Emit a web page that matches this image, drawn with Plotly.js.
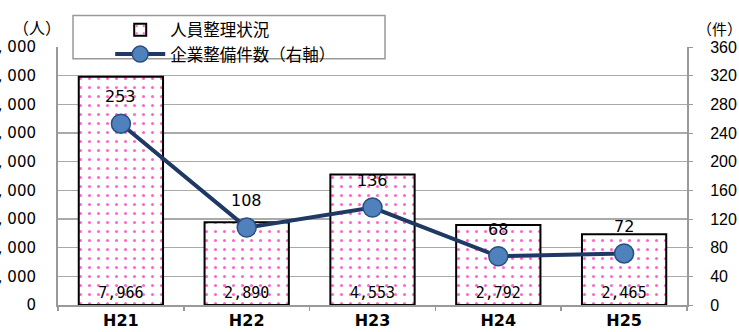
<!DOCTYPE html>
<html><head><meta charset="utf-8">
<script src="https://cdn.plot.ly/plotly-3.0.1.min.js"></script>
<style>html,body{margin:0;padding:0;background:#fff;}#chart{width:739px;height:332px;}</style>
</head><body><div id="chart"></div>
<script>
const categories = ['H21','H22','H23','H24','H25'];
const personnel = [7966, 2890, 4553, 2792, 2465];
const companies = [253, 108, 136, 68, 72];
const leftTicks = [0,1000,2000,3000,4000,5000,6000,7000,8000,9000];
const rightTicks = [0,40,80,120,160,200,240,280,320,360];
const seriesNames = ['人員整理状況','企業整備件数（右軸）'];
const unitLeft = '（人）';
const unitRight = '（件）';

const DJFONT = '"DejaVu Sans", sans-serif';
const NARROW = '"Liberation Sans Narrow", "Arial Narrow", "Liberation Sans", sans-serif';
const MONOFONT = '"DejaVu Sans Mono", monospace';
const JPFONT = '"Noto Sans CJK JP", sans-serif';

const fmt = v => v.toLocaleString('en-US').replace(',', ', ');

const bars = {
  type:'bar', x:categories, y:personnel, name:seriesNames[0],
  marker:{color:'#ffffff', line:{color:'#000000', width:2},
    pattern:{shape:'.', fgcolor:'#ff66cc', bgcolor:'#ffffff', size:9, solidity:0.09}},
  text:personnel.map(v => v.toLocaleString('en-US')), texttemplate:'%{text}',
  textposition:'inside', insidetextanchor:'start',
  textangle:0, constraintext:'none',
  textfont:{family:MONOFONT, size:15, color:'#000'},
  hoverinfo:'skip'
};
const line = {
  type:'scatter', mode:'lines+markers', x:categories, y:companies, yaxis:'y2',
  name:seriesNames[1],
  line:{color:'#1F3864', width:4},
  marker:{symbol:'circle', size:19, color:'#4F81BD', line:{color:'#2A4E80', width:1.5}},
  hoverinfo:'skip'
};

const annotations = companies.map((v,i)=>({
  x:categories[i], y:v, xref:'x', yref:'y2', text:String(v), showarrow:false,
  yshift:27, font:{family:DJFONT, size:16, color:'#000'}
}));
annotations.push({xref:'paper', yref:'paper', x:-0.074, y:1.078, xanchor:'left', yanchor:'middle',
  text:unitLeft, showarrow:false, font:{family:JPFONT, size:16, color:'#000'}});
annotations.push({xref:'paper', yref:'paper', x:1.013, y:1.07, xanchor:'left', yanchor:'middle',
  text:unitRight, showarrow:false, font:{family:JPFONT, size:15, color:'#000'}});

const layout = {
  width:739, height:332,
  margin:{l:58, r:52, t:43, b:27, pad:0},
  paper_bgcolor:'#fff', plot_bgcolor:'#fff',
  bargap:0.33,
  showlegend:true,
  legend:{x:0.083, y:1.134, xanchor:'left', yanchor:'top', bgcolor:'rgba(0,0,0,0)',
    borderwidth:0, font:{family:JPFONT, size:16.5, color:'#000'},
    tracegroupgap:0, itemwidth:50},
  shapes:[{type:'rect', xref:'paper', yref:'paper', layer:'above',
    x0:(73-58)/629, x1:(385-58)/629, y0:(305-55)/262, y1:(305-11)/262,
    fillcolor:'#fff', line:{color:'#999', width:1.5}}],
  xaxis:{type:'category', tickvals:categories, ticktext:categories,
    showline:true, linecolor:'#999', linewidth:2, showgrid:false,
    ticks:'outside', ticklen:4, tickcolor:'#999', tickwidth:1.5, tickson:'boundaries',
    tickfont:{family:DJFONT, size:16, color:'#000', weight:'bold'}, fixedrange:true},
  yaxis:{range:[0,9000], tickvals:leftTicks, ticktext:leftTicks.map(fmt),
    showline:true, linecolor:'#999', linewidth:2,
    showgrid:true, gridcolor:'#aaa', gridwidth:1.2, zeroline:false, ticks:'', automargin:false,
    ticklabelstandoff:17,
    tickfont:{family:DJFONT, size:15, color:'#000'}},
  yaxis2:{range:[0,360], tickvals:rightTicks, overlaying:'y', side:'right', showline:true,
    linecolor:'#999', linewidth:2, showgrid:false, zeroline:false, ticks:'outside', ticklen:4,
    tickcolor:'#999', automargin:false, ticklabelstandoff:14,
    tickfont:{family:NARROW, size:16, color:'#000'}},
  annotations:annotations
};
Plotly.newPlot('chart',[bars,line],layout,{staticPlot:true, displayModeBar:false});
</script></body></html>
